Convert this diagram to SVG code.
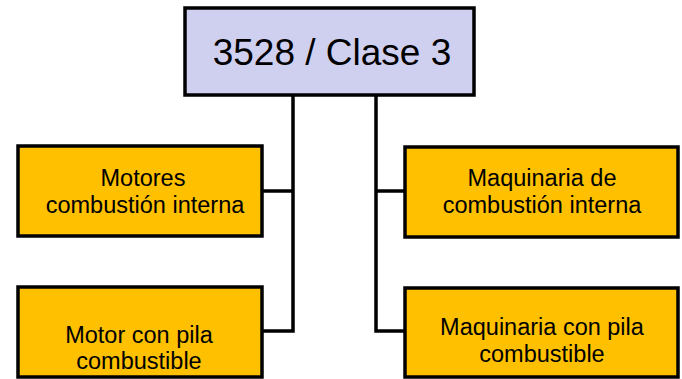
<svg xmlns="http://www.w3.org/2000/svg" width="682" height="379" viewBox="0 0 682 379">
<style>
.box{stroke:#000;stroke-width:3.5}
.top{fill:#CFCFF0}
.leaf{fill:#FFC000}
.t{font-family:"Liberation Sans",Arial,sans-serif;fill:#000;text-anchor:middle}
.s{font-size:23.5px}
.big{font-size:37px}
.conn{fill:none;stroke:#000;stroke-width:3.5}
</style>
<rect width="682" height="379" fill="#fff"/>
<g id="connectors">
<polyline class="conn" points="293,95 293,331 262,331"/>
<line class="conn" x1="293" y1="191" x2="262" y2="191"/>
<polyline class="conn" points="376,95 376,331 405,331"/>
<line class="conn" x1="376" y1="191" x2="405" y2="191"/>
</g>
<g id="root">
<rect class="box top" x="185" y="8" width="289" height="87"/>
<text class="t big" x="332" y="65">3528 / Clase 3</text>
</g>
<g id="motores-ci">
<rect class="box leaf" x="18" y="146" width="244" height="90"/>
<text class="t s" x="143" y="186">Motores</text>
<text class="t s" x="145" y="213">combustión interna</text>
</g>
<g id="motor-pila">
<rect class="box leaf" x="18" y="287" width="244" height="90"/>
<text class="t s" x="139" y="343">Motor con pila</text>
<text class="t s" x="139" y="369">combustible</text>
</g>
<g id="maq-ci">
<rect class="box leaf" x="405" y="147" width="273" height="90"/>
<text class="t s" x="542" y="186">Maquinaria de</text>
<text class="t s" x="542" y="213">combustión interna</text>
</g>
<g id="maq-pila">
<rect class="box leaf" x="405" y="288" width="273" height="89"/>
<text class="t s" x="542" y="335">Maquinaria con pila</text>
<text class="t s" x="542" y="362">combustible</text>
</g>
</svg>
